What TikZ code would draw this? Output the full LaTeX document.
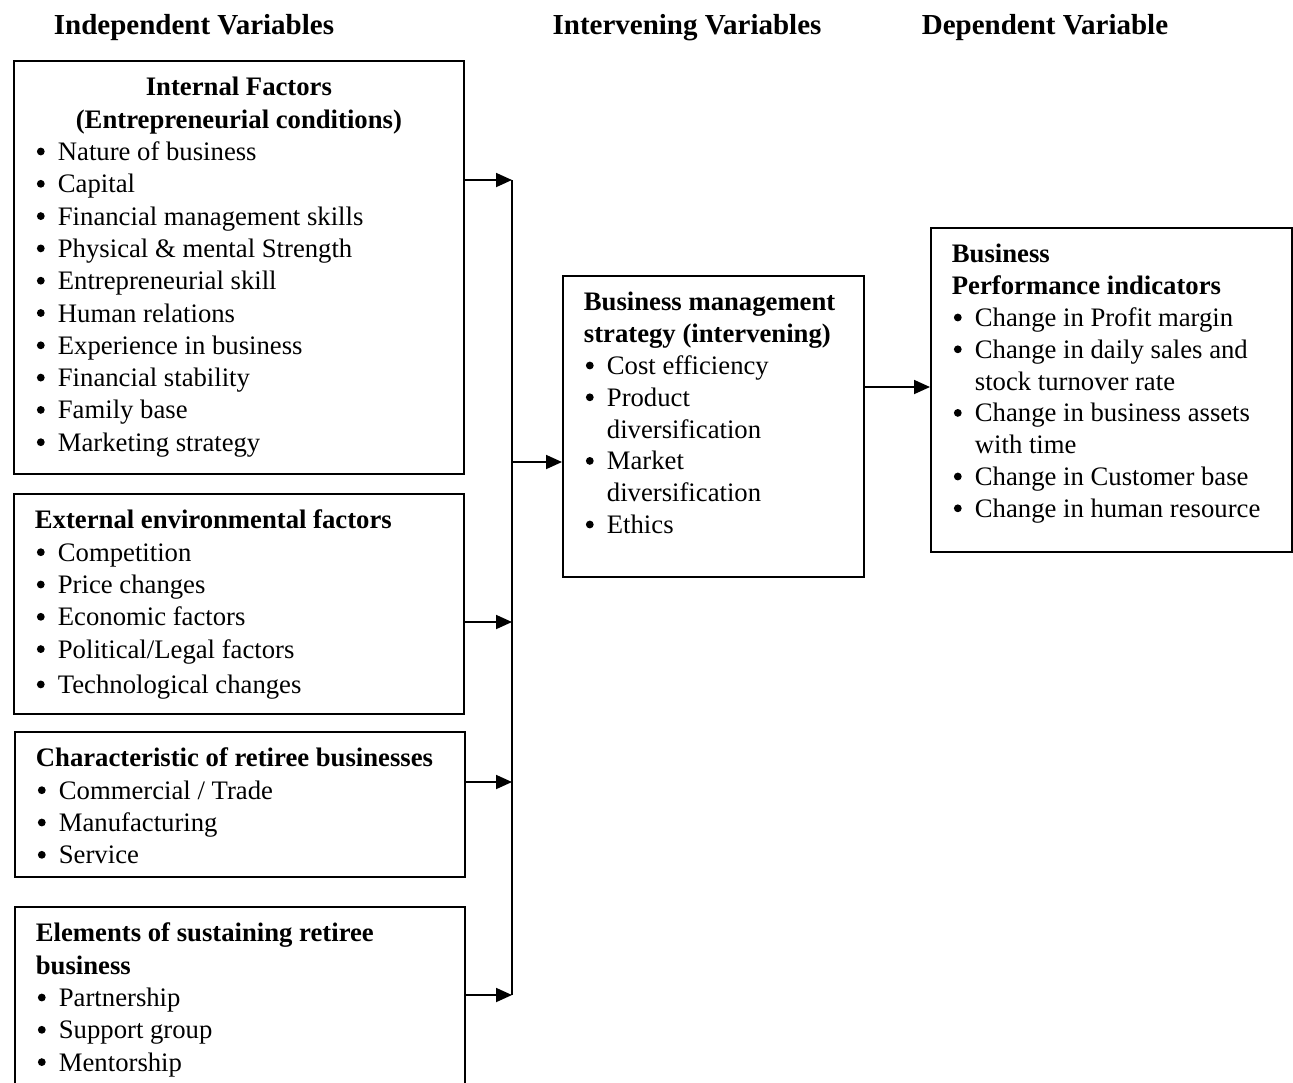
\documentclass[tikz,border=0pt]{standalone}
\usepackage{fontspec}
\setmainfont{Liberation Serif}
\usetikzlibrary{arrows.meta}

% round dot used as the list bullet
\newcommand{\dotmark}{\tikz[baseline={(0,-9pt)}]{\fill (0,0) circle (3.9pt);}}
% one bulleted line, later lines hang under the text
\newcommand{\bul}[1]{\par\noindent\hangindent=23pt\hangafter=1\makebox[23pt][l]{\hspace{2pt}\dotmark}#1}
% first line of a panel, pushed down from the top border
\newcommand{\firstln}{\rule{0pt}{35pt}}

\tikzset{
  panel/.style={draw, line width=1.8pt, anchor=north west, inner xsep=21pt,
    inner ysep=0pt, font=\fontsize{26.7}{32.3}\selectfont},
  tight/.style={font=\fontsize{26.7}{31.8}\selectfont},
  colhead/.style={font=\fontsize{29}{34}\selectfont\bfseries},
  flow/.style={line width=1.8pt, -{Triangle[length=16pt,width=14pt]}},
  bus/.style={line width=1.8pt}
}

\begin{document}
\begin{tikzpicture}[x=1pt,y=-1pt]
  \clip (0,0) rectangle (1293,1082);

  % column titles
  \node[colhead] (indep) at (194,28) {Independent Variables};
  \node[colhead] (interv) at (687,28) {Intervening Variables};
  \node[colhead] (dep) at (1045,28) {Dependent Variable};

  % independent variables
  \node[panel] (internal) at (13,60) {\parbox[t][413pt][t]{408pt}{%
    {\centering\firstln\textbf{Internal Factors}\\
    \textbf{(Entrepreneurial conditions)}\par}
    \bul{Nature of business}
    \bul{Capital}
    \bul{Financial management skills}
    \bul{Physical \& mental Strength}
    \bul{Entrepreneurial skill}
    \bul{Human relations}
    \bul{Experience in business}
    \bul{Financial stability}
    \bul{Family base}
    \bul{Marketing strategy}}};

  \node[panel] (external) at (13,493) {\parbox[t][220pt][t]{408pt}{%
    \noindent\firstln\textbf{External environmental factors}
    \bul{Competition}
    \bul{Price changes}
    \bul{Economic factors}
    \bul{Political/Legal factors}\vspace{3pt}
    \bul{Technological changes}}};

  \node[panel] (retiree) at (14,731) {\parbox[t][145pt][t]{408pt}{%
    \noindent\firstln\textbf{Characteristic of retiree businesses}
    \bul{Commercial / Trade}
    \bul{Manufacturing}
    \bul{Service}}};

  \node[panel] (sustain) at (14,906) {\parbox[t][200pt][t]{408pt}{%
    \noindent\firstln\textbf{Elements of sustaining retiree}\\
    \textbf{business}
    \bul{Partnership}
    \bul{Support group}
    \bul{Mentorship}}};

  % intervening variables
  \node[panel, tight] (strategy) at (562,275) {\parbox[t][301pt][t]{259pt}{%
    \noindent\firstln\textbf{Business management}\\
    \textbf{strategy (intervening)}
    \bul{Cost efficiency}
    \bul{Product\\ diversification}
    \bul{Market\\ diversification}
    \bul{Ethics}}};

  % dependent variable
  \node[panel, tight] (perf) at (930,227) {\parbox[t][324pt][t]{319pt}{%
    \noindent\firstln\textbf{Business}\\
    \textbf{Performance indicators}
    \bul{Change in Profit margin}
    \bul{Change in daily sales and\\ stock turnover rate}
    \bul{Change in business assets\\ with time}
    \bul{Change in Customer base}
    \bul{Change in human resource}}};

  % collecting line
  \coordinate (b1) at (512,180);
  \coordinate (b2) at (512,622);
  \coordinate (b3) at (512,782);
  \coordinate (b4) at (512,995);
  \coordinate (bm) at (512,462);
  \draw[bus] (b1) -- (b4);

  \draw[flow] (internal.east |- b1) -- (b1);
  \draw[flow] (external.east |- b2) -- (b2);
  \draw[flow] (retiree.east |- b3) -- (b3);
  \draw[flow] (sustain.east |- b4) -- (b4);
  \draw[flow] (bm) -- (strategy.west |- bm);
  \draw[flow] (strategy.east |- 0,387) -- (perf.west |- 0,387);
\end{tikzpicture}
\end{document}
